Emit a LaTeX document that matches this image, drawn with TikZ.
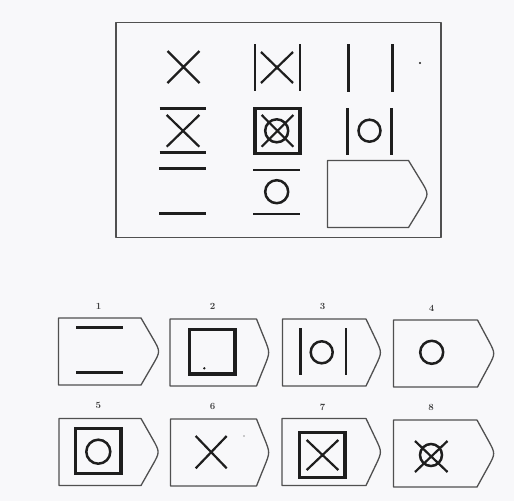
\documentclass[tikz,border=0pt]{standalone}
\usepackage{tikz}
\definecolor{bgc}{HTML}{F8F8FA}
\definecolor{frc}{HTML}{505050}
\definecolor{syc}{HTML}{1E1E1E}
\newcommand{\mytag}[5]{% name, left, top, width, tip start
  \draw[frm] (#2,#3) -- ({#2+#5},#3) -- ({#2+#4-0.4*(#4-#5)},{#3+33.5-0.4*33.5})
    .. controls ({#2+#4},{#3+33.5}) .. ({#2+#4-0.4*(#4-#5)},{#3+33.5+0.4*33.5})
    -- ({#2+#5},{#3+67}) -- (#2,{#3+67}) -- cycle;
  \coordinate (#1) at ({#2+#4/2},{#3+33.5});}
\tikzset{
  frm/.style={draw=frc, line width=1.3pt, line join=round},
  bar/.style={draw=syc, line width=2.9pt},
  xl/.style={draw=syc, line width=2.2pt},
  ring/.style={draw=syc, line width=2.5pt},
  sq/.style={draw=syc, line width=3.2pt},
  lab/.style={font=\fontsize{9.5}{10}\selectfont\bfseries, text=black!75, inner sep=0pt},
  speck/.style={fill=syc, draw=none}
}
\begin{document}
\begin{tikzpicture}[x=1pt,y=-1pt]
\fill[bgc] (0,0) rectangle (514,501);
\useasboundingbox (0,0) rectangle (514,501);
% main frame
\draw[frm] (116,22.5) rectangle (441,237.5);
% row 1
\draw[xl] (167.5,51) -- (199.5,83) (167.5,83) -- (199.5,51);
\draw[bar] (255,44) -- (255,91) (300,44) -- (300,91);
\draw[xl] (261,52) -- (293,83) (261,83) -- (293,52);
\draw[bar] (348.5,44) -- (348.5,91.5) (392.5,44) -- (392.5,91.5);
\fill[speck] (420,63) circle (1.2);
% row 2
\draw[bar] (159.5,108.5) -- (206,108.5) (159.5,152.3) -- (206,152.3);
\draw[xl] (166.7,115) -- (199.3,146.7) (166.7,146.7) -- (199.3,115);
\draw[sq] (255,108.5) rectangle (300,153.3);
\draw[xl] (261.7,115) -- (293.3,146.7) (261.7,146.7) -- (293.3,115);
\draw[ring] (276.7,130.8) circle (11.5);
\draw[bar] (347.7,108.3) -- (347.7,155) (391.7,108.3) -- (391.7,155);
\draw[ring] (369.5,130.7) circle (11);
% row 3
\draw[bar] (159.3,168.3) -- (206,168.3) (159.3,213.3) -- (206,213.3);
\draw[bar] (253.3,170) -- (300,170) (253.3,214) -- (300,214);
\draw[ring] (276.7,191.7) circle (11.5);
\mytag{q}{327.5}{160.5}{101.5}{81}
% answer panels
\mytag{p1}{58.5}{318}{102}{82.5}
\mytag{p2}{170}{319}{100}{86.5}
\mytag{p3}{282.5}{319}{99.5}{83.5}
\mytag{p4}{393.5}{320}{102}{84}
\mytag{p5}{59}{418.5}{101}{82}
\mytag{p6}{170.5}{419}{99.5}{86}
\mytag{p7}{282}{418.5}{100}{84}
\mytag{p8}{393.5}{420}{102}{83.5}
% labels
\node[lab] (l1) at (98.5,306) {1};
\node[lab] (l2) at (212.7,306) {2};
\node[lab] (l3) at (322.7,306.5) {3};
\node[lab] (l4) at (431.7,308) {4};
\node[lab] (l5) at (98.3,405) {5};
\node[lab] (l6) at (212.7,406) {6};
\node[lab] (l7) at (322.7,407.3) {7};
\node[lab] (l8) at (431,407.3) {8};
% panel contents
\draw[bar] (76,327.3) -- (122.7,327.3) (76,372.3) -- (122.7,372.3);
\draw[sq] (189.3,329.3) rectangle (235,374);
\fill[speck] (204.3,368.3) circle (1.3);
\draw[bar] (300.7,328.3) -- (300.7,375) (346,328.3) -- (346,375);
\draw[ring] (321.7,352.3) circle (11);
\draw[ring] (431.7,352.3) circle (11.5);
\draw[sq] (75.7,428.3) rectangle (121,473.3);
\draw[ring] (98.3,451.7) circle (12);
\draw[xl] (195.7,436) -- (226.7,468.3) (195.7,468.3) -- (226.7,436);
\fill[black!40] (244,436) circle (0.9);
\draw[sq] (299.3,432.7) rectangle (345,477.3);
\draw[xl] (306.7,440) -- (338.3,470) (306.7,470) -- (338.3,440);
\draw[xl] (415,441) -- (447.5,472) (415,472) -- (447.5,441);
\draw[ring] (431,455) circle (11);
\end{tikzpicture}
\end{document}
